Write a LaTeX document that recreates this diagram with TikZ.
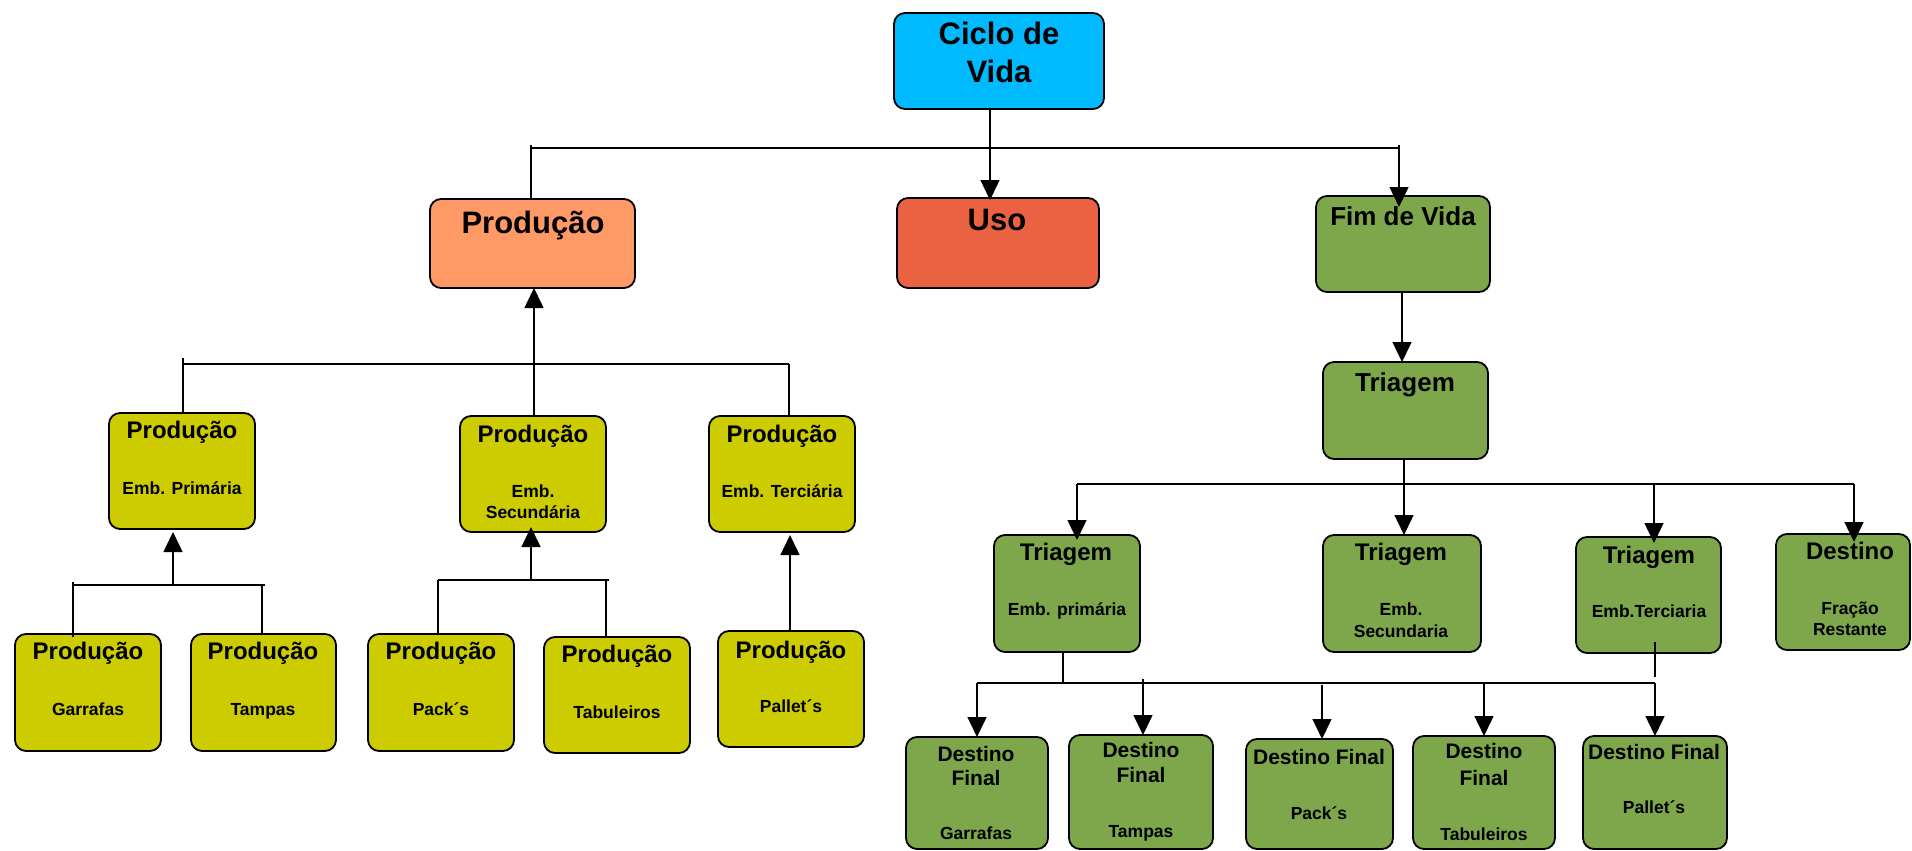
\documentclass[tikz,border=0pt]{standalone}
\usepackage{fontspec}
\setmainfont{Liberation Sans}
\usetikzlibrary{arrows.meta}

\definecolor{cicloblue}{RGB}{0,186,255}
\definecolor{prodorange}{RGB}{255,153,102}
\definecolor{usored}{RGB}{234,98,66}
\definecolor{fimgreen}{RGB}{125,167,74}
\definecolor{embyellow}{RGB}{204,204,0}

% box given by its top-left and bottom-right corners
\newcommand\boxat[6]{%
  \node[box,fill=#6,minimum width={(#4-#2)*1pt},minimum height={(#5-#3)*1pt},
        anchor=north west] (#1) at (#2,#3) {};}

\begin{document}
\begin{tikzpicture}[x=1pt,y=-1pt,
  box/.style={draw=black,line width=1.8pt,rounded corners=11pt,inner sep=0pt,outer sep=0pt},
  txt/.style={anchor=base,inner sep=0pt,font=\bfseries},
  tA/.style={txt,font=\bfseries\fontsize{31}{35}\selectfont},
  tB/.style={txt,font=\bfseries\fontsize{26}{30}\selectfont},
  tC/.style={txt,font=\bfseries\fontsize{24}{28}\selectfont},
  tD/.style={txt,font=\bfseries\fontsize{21}{25}\selectfont},
  tS/.style={txt,font=\bfseries\fontsize{17.5}{20}\selectfont},
  wire/.style={draw=black,line width=1.5pt},
  arr/.style={wire,-{Triangle[length=20pt,width=19pt]}}]

\useasboundingbox (0,0) rectangle (1912,851);

% ---------- boxes ----------
\boxat{ciclo}{894}{13}{1104}{109}{cicloblue}
\boxat{prod}{430}{199}{635}{288}{prodorange}
\boxat{uso}{897}{198}{1099}{288}{usored}
\boxat{fim}{1316}{196}{1490}{292}{fimgreen}
\boxat{tri}{1323}{362}{1488}{459}{fimgreen}

\boxat{pA}{109}{413}{255}{529}{embyellow}
\boxat{pB}{460}{416}{606}{532}{embyellow}
\boxat{pC}{709}{416}{855}{532}{embyellow}

\boxat{gA}{15}{634}{161}{751}{embyellow}
\boxat{gB}{191}{634}{336}{751}{embyellow}
\boxat{gC}{368}{634}{514}{751}{embyellow}
\boxat{gD}{544}{637}{690}{753}{embyellow}
\boxat{gE}{718}{631}{864}{747}{embyellow}

\boxat{tA}{994}{535}{1140}{652}{fimgreen}
\boxat{tB}{1323}{535}{1481}{652}{fimgreen}
\boxat{tC}{1576}{537}{1721}{653}{fimgreen}
\boxat{tD}{1776}{534}{1910}{650}{fimgreen}

\boxat{dA}{906}{737}{1048}{849}{fimgreen}
\boxat{dB}{1069}{735}{1213}{849}{fimgreen}
\boxat{dC}{1246}{739}{1393}{849}{fimgreen}
\boxat{dD}{1413}{736}{1555}{849}{fimgreen}
\boxat{dE}{1583}{736}{1727}{849}{fimgreen}

% ---------- texts ----------
\node[tA] (ciclo1) at (999,45) {Ciclo de};
\node[tA] (ciclo2) at (999,82) {Vida};
\node[tA] (prodT) at (533,233) {Produção};
\node[tA] (usoT) at (997,230) {Uso};
\node[tB] (fimT) at (1403,225) {Fim de Vida};
\node[tB] (triT) at (1405,391) {Triagem};

\node[tC] (pAT) at (182,438) {Produção};
\node[tS] (pAS) at (182,494) {Emb. Primária};
\node[tC] (pBT) at (533,442) {Produção};
\node[tS] (pBS1) at (533,497) {Emb.};
\node[tS] (pBS2) at (533,518) {Secundária};
\node[tC] (pCT) at (782,442) {Produção};
\node[tS] (pCS) at (782,497) {Emb. Terciária};

\node[tC] (gAT) at (88,659) {Produção};
\node[tS] (gAS) at (88,715) {Garrafas};
\node[tC] (gBT) at (263,659) {Produção};
\node[tS] (gBS) at (263,715) {Tampas};
\node[tC] (gCT) at (441,659) {Produção};
\node[tS] (gCS) at (441,715) {Pack´s};
\node[tC] (gDT) at (617,662) {Produção};
\node[tS] (gDS) at (617,718) {Tabuleiros};
\node[tC] (gET) at (791,658) {Produção};
\node[tS] (gES) at (791,712) {Pallet´s};

\node[tC] (tAT) at (1066,560) {Triagem};
\node[tS] (tAS) at (1067,615) {Emb. primária};
\node[tC] (tBT) at (1401,560) {Triagem};
\node[tS] (tBS1) at (1401,615) {Emb.};
\node[tS] (tBS2) at (1401,637) {Secundaria};
\node[tC] (tCT) at (1649,563) {Triagem};
\node[tS] (tCS) at (1649,617) {Emb.Terciaria};
\node[tC] (tDT) at (1850,559) {Destino};
\node[tS] (tDS1) at (1850,614) {Fração};
\node[tS] (tDS2) at (1850,635) {Restante};

\node[tD] (dAT1) at (976,761) {Destino};
\node[tD] (dAT2) at (976,785) {Final};
\node[tS] (dAS) at (976,839) {Garrafas};
\node[tD] (dBT1) at (1141,757) {Destino};
\node[tD] (dBT2) at (1141,782) {Final};
\node[tS] (dBS) at (1141,837) {Tampas};
\node[tD] (dCT) at (1319,764) {Destino Final};
\node[tS] (dCS) at (1319,819) {Pack´s};
\node[tD] (dDT1) at (1484,758) {Destino};
\node[tD] (dDT2) at (1484,785) {Final};
\node[tS] (dDS) at (1484,840) {Tabuleiros};
\node[tD] (dET) at (1654,759) {Destino Final};
\node[tS] (dES) at (1654,813) {Pallet´s};

% ---------- junction points ----------
\coordinate (busTopL) at (531,148);
\coordinate (busTopM) at (990,148);
\coordinate (busTopR) at (1399,148);
\coordinate (stemFim) at (1402,0);

\coordinate (busPL) at (183,364);
\coordinate (busPM) at (534,364);
\coordinate (busPR) at (789,364);

\coordinate (busGL) at (73,585);
\coordinate (busGM) at (173,585);
\coordinate (busGR) at (265,585);
\coordinate (busGR2) at (262,585);

\coordinate (busKL) at (438,580);
\coordinate (busKM) at (531,580);
\coordinate (busKR) at (609,580);
\coordinate (busKR2) at (606,580);

\coordinate (stemPal) at (790,0);

\coordinate (busTL) at (1077,484);
\coordinate (busTM) at (1404,484);
\coordinate (busTC) at (1654,484);
\coordinate (busTR) at (1854,484);

\coordinate (busDL) at (977,683);
\coordinate (busDstemA) at (1063,683);
\coordinate (busDB) at (1143,683);
\coordinate (busDC) at (1322,683);
\coordinate (busDD) at (1484,683);
\coordinate (busDR) at (1655,683);

% (yshift works on the page: positive moves a point up)

% ---------- connectors: top level ----------
\draw[wire] (busTopL) -- (busTopR);
\draw[wire] ([yshift=3pt]busTopL) -- (prod.north -| busTopL);
\draw[arr] (ciclo.south -| busTopM) -- ([yshift=-2pt]uso.north -| busTopM);
\draw[arr] ([yshift=3pt]busTopR) -- ([yshift=-11pt]fim.north -| busTopR);
\draw[arr] (fim.south -| stemFim) -- (tri.north -| stemFim);

% ---------- connectors: production side ----------
\draw[wire] (busPL) -- (busPR);
\draw[wire] ([yshift=6pt]busPL) -- (pA.north -| busPL);
\draw[wire] (busPR) -- (pC.north -| busPR);
\draw[arr] (pB.north -| busPM) -- (prod.south -| busPM);

\draw[wire] (busGL) -- (busGR);
\draw[wire] ([yshift=3pt]busGL) -- ([yshift=-3pt]gA.north -| busGL);
\draw[wire] (busGR2) -- (gB.north -| busGR2);
\draw[arr] (busGM) -- ([yshift=-3pt]pA.south -| busGM);

\draw[wire] (busKL) -- (busKR);
\draw[wire] (busKL) -- (gC.north -| busKL);
\draw[wire] (busKR2) -- (gD.north -| busKR2);
\draw[arr] (busKM) -- ([yshift=5pt]pB.south -| busKM);

\draw[arr] (gE.north -| stemPal) -- ([yshift=-3pt]pC.south -| stemPal);

% ---------- connectors: end-of-life side ----------
\draw[wire] (busTL) -- (busTR);
\draw[wire] (tri.south -| busTM) -- (busTM);
\draw[arr] (busTL) -- ([yshift=-5pt]tA.north -| busTL);
\draw[arr] (busTM) -- (tB.north -| busTM);
\draw[arr] (busTC) -- ([yshift=-6pt]tC.north -| busTC);
\draw[arr] (busTR) -- ([yshift=-8pt]tD.north -| busTR);

\draw[wire] (busDL) -- (busDR);
\draw[wire] (tA.south -| busDstemA) -- (busDstemA);
\draw[wire] ([yshift=11pt]tC.south -| busDR) -- ([yshift=6pt]busDR);
\draw[arr] (busDL) -- (dA.north -| busDL);
\draw[arr] ([yshift=4pt]busDB) -- (dB.north -| busDB);
\draw[arr] ([yshift=-2pt]busDC) -- (dC.north -| busDC);
\draw[arr] (busDD) -- (dD.north -| busDD);
\draw[arr] (busDR) -- (dE.north -| busDR);

\end{tikzpicture}
\end{document}
